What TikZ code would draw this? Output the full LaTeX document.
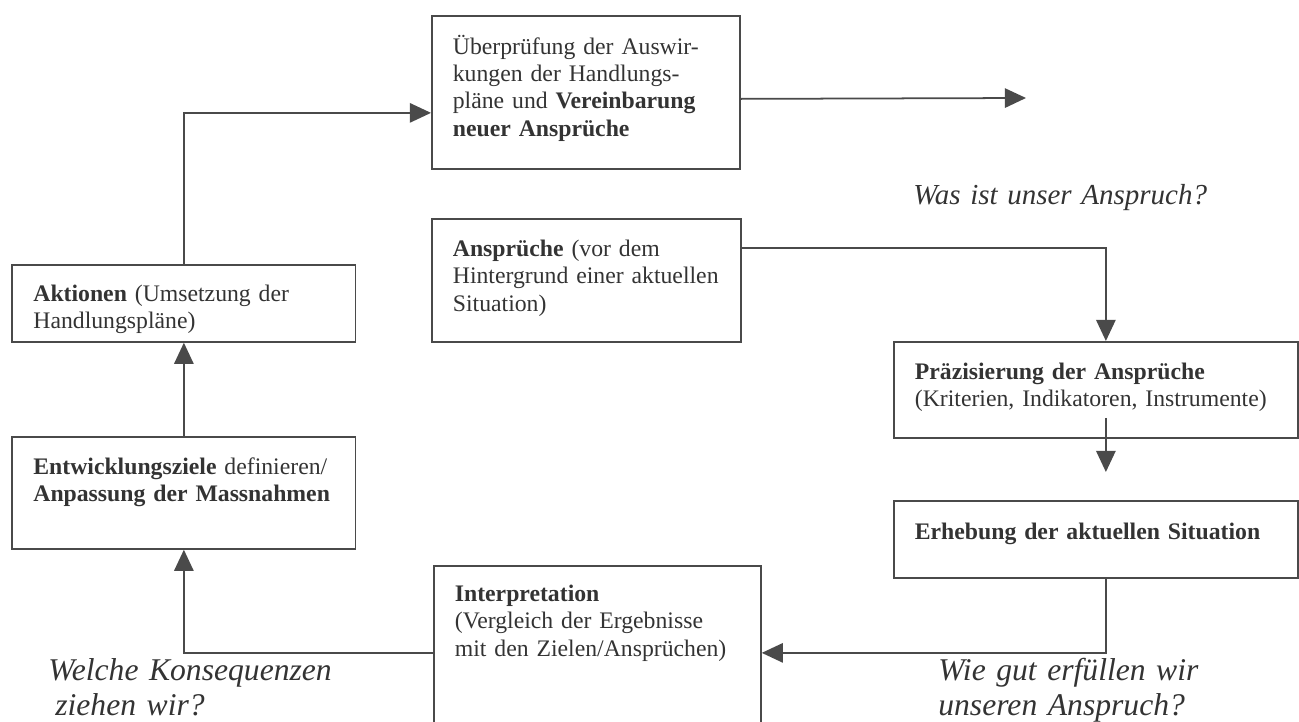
\documentclass[tikz,border=0pt]{standalone}
\usepackage{fontspec}
\setmainfont{Liberation Serif}
\usetikzlibrary{arrows.meta, positioning}
\definecolor{inkgray}{HTML}{333333}
\definecolor{linegray}{HTML}{4A4A4A}

\begin{document}
\begin{tikzpicture}[
  stage/.style={rectangle, draw=linegray, line width=1pt, anchor=north west,
    inner xsep=0.42cm, inner ysep=0pt, align=left, text=inkgray,
    font=\fontsize{13.5}{15.4}\selectfont},
  question/.style={anchor=base west, inner sep=0pt, align=left, text width=7cm,
    text=inkgray, font=\fontsize{18}{20}\selectfont\itshape},
  arr/.style={-{Triangle[length=12pt, width=11pt]}, line width=1pt, linegray}
]
\useasboundingbox (0,0) rectangle (25.98,-14.44);
\clip (0,0) rectangle (25.98,-14.44);
% === Top: review and new claims ===
\node[stage, text width=5.32cm, text height=0.78cm, text depth=2.28cm] (review) at (8.62,-0.30)
  {Überprüfung der Auswir-\\kungen der Handlungs-\\pläne und \textbf{Vereinbarung}\\\textbf{neuer Ansprüche}};
\coordinate (next) at (20.52,-1.96);
% === Middle: claims, precision, survey ===
\node[stage, text width=5.34cm, text height=0.76cm, text depth=1.70cm] (claims) at (8.62,-4.36)
  {\textbf{Ansprüche} (vor dem\\Hintergrund einer aktuellen\\Situation)};
\node[stage, text width=7.24cm, text height=0.76cm, text depth=1.16cm] (precise) at (17.86,-6.82)
  {\textbf{Präzisierung der Ansprüche}\\(Kriterien, Indikatoren, Instrumente)};
\node[stage, text width=7.24cm, text height=0.78cm, text depth=0.76cm] (survey) at (17.86,-10.00)
  {\textbf{Erhebung der aktuellen Situation}};
% === Bottom: interpretation ===
\node[stage, text width=5.70cm, text height=0.72cm, text depth=2.76cm] (interp) at (8.66,-11.30)
  {\textbf{Interpretation}\\(Vergleich der Ergebnisse\\mit den Zielen/Ansprüchen)};
% === Left: goals and actions ===
\node[stage, text width=6.02cm, text height=0.76cm, text depth=1.48cm] (goals) at (0.23,-8.72)
  {\textbf{Entwicklungsziele} definieren/\\\textbf{Anpassung der Massnahmen}};
\node[stage, text width=6.02cm, text height=0.74cm, text depth=0.80cm] (actions) at (0.23,-5.28)
  {\textbf{Aktionen} (Umsetzung der\\Handlungspläne)};
% === Arrows ===
\draw[arr] ([yshift=-0.13cm]review.east) -- (next);
\draw[arr] ([yshift=0.65cm]claims.east) -| ([xshift=0.2cm]precise.north);
\draw[arr] ([xshift=0.2cm, yshift=0.42cm]precise.south) -- ([xshift=0.2cm, yshift=0.56cm]survey.north);
\draw[arr] ([xshift=0.2cm]survey.south) |- (interp.east);
\draw[arr] (interp.west) -| (goals.south);
\draw[arr] (goals.north) -- (actions.south);
\draw[arr] (actions.north) |- ([yshift=-0.41cm]review.west);
% === Guiding questions ===
\node[question, font=\fontsize{16.5}{20}\selectfont\itshape] (qclaim) at (18.26,-4.10) {Was ist unser Anspruch?};
\node[question] (qmeet) at (18.76,-13.60) {Wie gut erfüllen wir\\unseren Anspruch?};
\node[question] (qconseq) at (0.96,-13.60) {Welche Konsequenzen\\\hspace*{0.14cm}ziehen wir?};
\end{tikzpicture}
\end{document}
